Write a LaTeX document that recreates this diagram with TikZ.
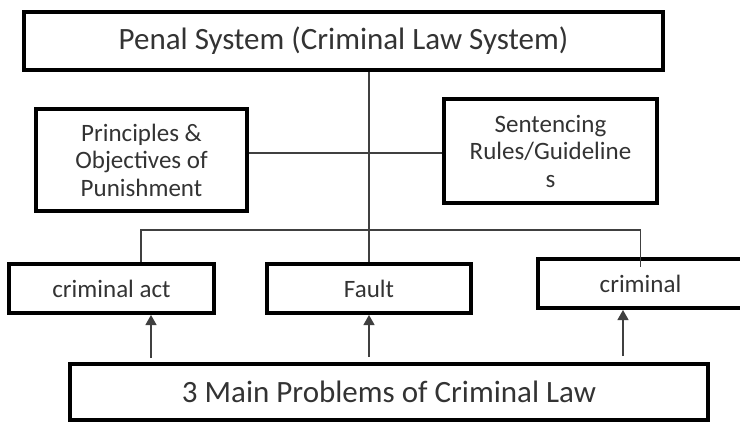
\documentclass[tikz,border=0pt]{standalone}
\usepackage{fontspec}
\setmainfont{Carlito}
\usetikzlibrary{arrows.meta}
\begin{document}
\begin{tikzpicture}[x=1pt,y=-1pt,
        box/.style={draw,line width=4pt,inner sep=0pt,text=black!80,align=center},
        bigbox/.style={box,minimum height=58pt,font=\fontsize{31}{36}\selectfont},
        smallbox/.style={box,font=\fontsize{25}{27.5}\selectfont},
        link/.style={line width=1.3pt,black!75},
        arr/.style={link,-{Triangle[width=11pt,length=10pt]}}]
        \useasboundingbox (0,0) rectangle (740,423);
        \node[bigbox,minimum width=639pt] (penal) at (343.5,41) {Penal System (Criminal Law System)};
        \node[smallbox,minimum width=211pt,minimum height=102pt] (principles) at (141.5,160) {Principles \&\\Objectives of\\Punishment};
        \node[smallbox,minimum width=213pt,minimum height=104pt] (sentencing) at (550.5,151) {Sentencing\\Rules/Guideline\\s};
        \node[smallbox,minimum width=205pt,minimum height=49pt] (act) at (111.5,288.5) {criminal act};
        \node[smallbox,minimum width=204pt,minimum height=49pt] (fault) at (369,288.5) {Fault};
        \node[smallbox,minimum width=205pt,minimum height=49pt] (criminal) at (640.5,283.5) {criminal};
        \node[bigbox,minimum width=638pt,minimum height=56pt] (main) at (389,392) {3 Main Problems of Criminal Law};
        \draw[link] (penal.south -| fault.north) -- (fault.north);
        \draw[link] (principles.east |- 0,153) -- (sentencing.west |- 0,153);
        \draw[link] ([xshift=29.5pt]act.north) |- (criminal.north |- 0,230) -- ([yshift=-10pt]criminal.north);
        \draw[arr] ([xshift=39.5pt,yshift=4pt]act.south |- main.north) -- ([xshift=39.5pt]act.south);
        \draw[arr] ([yshift=5pt]fault.south |- main.north) -- (fault.south);
        \draw[arr] ([xshift=-17.5pt,yshift=6pt]criminal.south |- main.north) -- ([xshift=-17.5pt]criminal.south);
    \end{tikzpicture}
\end{document}
